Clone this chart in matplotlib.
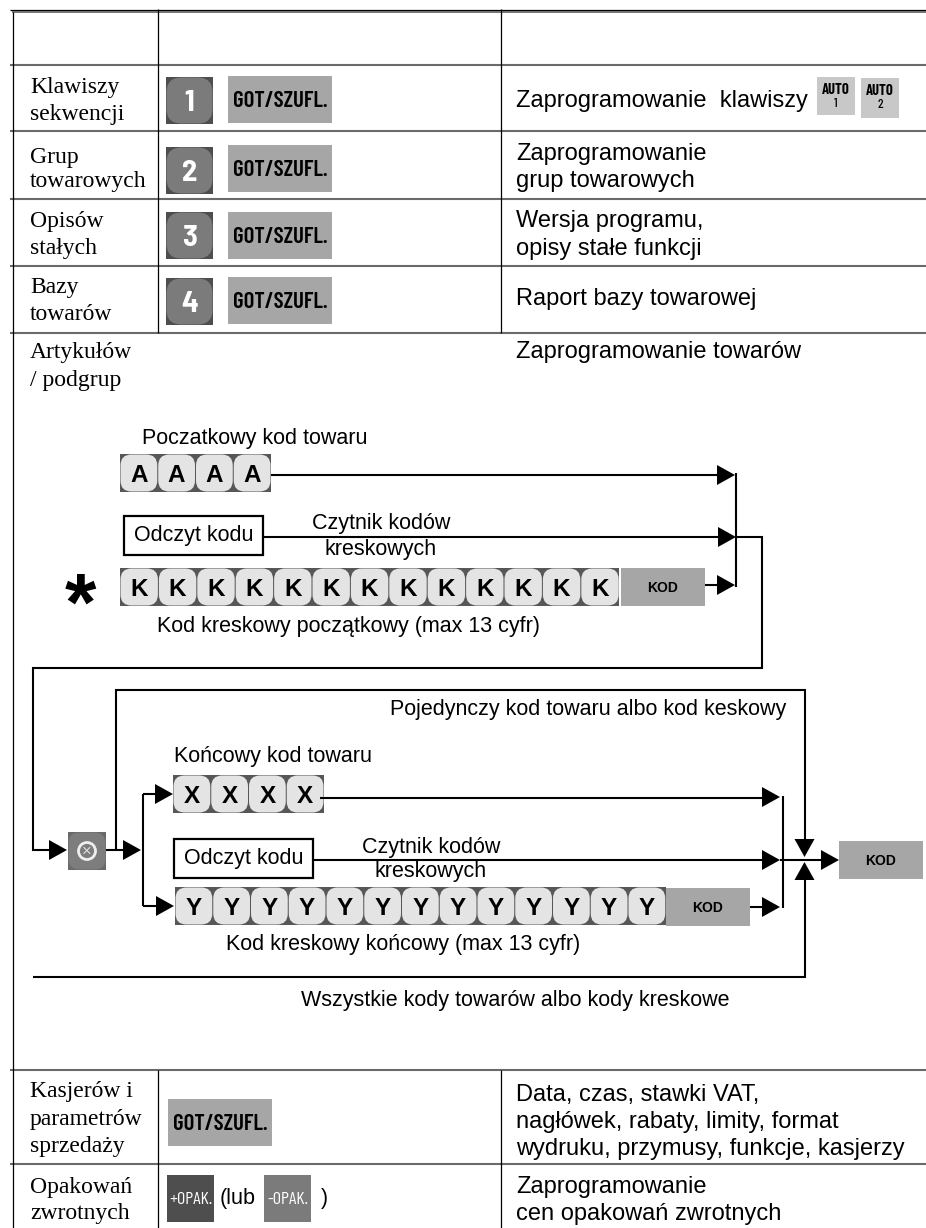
import matplotlib
matplotlib.use("Agg")
import matplotlib.pyplot as plt
from matplotlib.patches import Rectangle, FancyBboxPatch, Polygon, Circle

SANS = "Liberation Sans"
SERIF = "Liberation Serif"
NARROW = ["Barlow Condensed", "Archivo Narrow", "Liberation Sans"]
SEMI = ["Barlow Semi Condensed", "Archivo Narrow", "Liberation Sans"]

# table texts
row_names = [["Klawiszy", "sekwencji"], ["Grup", "towarowych"], ["Opisów", "stałych"],
             ["Bazy", "towarów"], ["Artykułów", "/ podgrup"],
             ["Kasjerów i", "parametrów", "sprzedaży"], ["Opakowań", "zwrotnych"]]
row_name_y = [[93, 120], [163, 187], [227, 254], [293, 320], [358, 386],
              [1097, 1125, 1152], [1193, 1219]]
row_desc = [["Zaprogramowanie  klawiszy"], ["Zaprogramowanie", "grup towarowych"],
            ["Wersja programu,", "opisy stałe funkcji"], ["Raport bazy towarowej"],
            ["Zaprogramowanie towarów"],
            ["Data, czas, stawki VAT,", "nagłówek, rabaty, limity, format",
             "wydruku, przymusy, funkcje, kasjerzy"],
            ["Zaprogramowanie", "cen opakowań zwrotnych"]]
row_desc_y = [[107], [160, 187], [227, 255], [305], [358], [1101, 1128, 1155], [1193, 1220]]

rule_y = [65, 131, 199, 266, 333, 1070, 1164]
digits = ["1", "2", "3", "4"]
digit_y = [77, 147, 212, 278]
got_y = [76, 145, 212, 277]

# diagram labels
diagram_text = [("Poczatkowy kod towaru", 142, 444), ("Kod kreskowy początkowy (max 13 cyfr)", 157, 632),
                ("Pojedynczy kod towaru albo kod keskowy", 390, 715), ("Końcowy kod towaru", 174, 762),
                ("Kod kreskowy końcowy (max 13 cyfr)", 226, 950),
                ("Wszystkie kody towarów albo kody kreskowe", 301, 1006)]

fig = plt.figure(figsize=(9.26, 12.28), dpi=100)
ax = fig.add_axes([0, 0, 1, 1])
ax.set_xlim(0, 926)
ax.set_ylim(1228, 0)
ax.axis("off")


def line(xs, ys, lw=1.5, color="black"):
    ax.plot(xs, ys, color=color, lw=lw, solid_capstyle="butt", solid_joinstyle="miter")


def label(x, y, s, size=15.5, ha="left", family=SANS, weight="normal", color="black"):
    ax.text(x, y, s, fontsize=size, ha=ha, va="baseline", family=family, weight=weight, color=color)


def box(x0, y0, x1, y1, color):
    ax.add_patch(Rectangle((x0, y0), x1 - x0, y1 - y0, facecolor=color, edgecolor="none"))


def key(x0, y0, w, h, s, back="#575757", face="#e4e4e4", size=17.5, color="black", family=SANS, drop=9, r=11,
        weight="bold"):
    box(x0, y0, x0 + w, y0 + h, back)
    ax.add_patch(FancyBboxPatch((x0 + 8.5, y0 + 8.5), w - 17, h - 17, boxstyle=f"round,pad=8,rounding_size={r}",
                                facecolor=face, edgecolor="none"))
    label(x0 + w / 2, y0 + h / 2 + drop, s, size=size, ha="center", weight=weight, family=family, color=color)


def key_row(x0, y0, w, letters):
    for i, s in enumerate(letters):
        key(x0 + i * w, y0, w, 38, s)


def arrow(x, y, d="right", length=18, half=10):
    if d == "right":
        pts = [(x, y), (x - length, y - half), (x - length, y + half)]
    elif d == "down":
        pts = [(x, y), (x - half, y - length), (x + half, y - length)]
    else:
        pts = [(x, y), (x - half, y + length), (x + half, y + length)]
    ax.add_patch(Polygon(pts, facecolor="black", edgecolor="none", zorder=3))


def kod_box(x0, y0):
    box(x0, y0, x0 + 84, y0 + 38, "#a6a6a6")
    label(x0 + 42, y0 + 24, "KOD", size=10, ha="center", weight="bold")


def got_box(x0, y0):
    box(x0, y0, x0 + 104, y0 + 47, "#a6a6a6")
    label(x0 + 52, y0 + 31, "GOT/SZUFL.", size=16.5, ha="center", weight=600, family=NARROW)


def odczyt(x0, y0, y_line, x_end):
    ax.add_patch(Rectangle((x0, y0), 139, 39, facecolor="white", edgecolor="black", lw=1.6))
    label(x0 + 70, y0 + 25, "Odczyt kodu", ha="center")
    line([x0 + 139, x_end], [y_line, y_line])


# table frame
line([10, 926], [9.5, 9.5], lw=0.9)
line([12, 926], [12, 12], lw=1.1, color="#505050")
for y in rule_y:
    line([10, 926], [y, y], lw=1.5, color="#6a6a6a")
line([12.5, 12.5], [12, 1228], lw=0.9)
for x in [158, 501]:
    line([x, x], [9, 333], lw=0.9)
    line([x, x], [1070, 1228], lw=0.9)

for names, ys in zip(row_names, row_name_y):
    for s, y in zip(names, ys):
        label(30, y, s, size=17, family=SERIF)
for descs, ys in zip(row_desc, row_desc_y):
    for s, y in zip(descs, ys):
        label(516, y, s, size=17)

# number keys
for d, y0, y1 in zip(digits, digit_y, got_y):
    key(166, y0, 47, 47, d, back="#4e4e4e", face="#7b7b7b", size=22, color="white", family=SEMI, drop=10.5, r=15,
        weight=700)
    got_box(228, y1)

for i, (x0, y0, y1) in enumerate([(817, 77, 115), (861, 78, 118)]):
    box(x0, y0, x0 + 38, y1, "#c8c8c8")
    label(x0 + 19, y0 + 17, "AUTO", size=10.5, ha="center", weight="bold", family=NARROW)
    label(x0 + 19, y0 + 30, str(i + 1), size=9.5, ha="center", family=NARROW, weight=500)

# upper part of diagram
for s, x, y in diagram_text:
    label(x, y, s)

key_row(120, 454, 37.75, "AAAA")
line([271, 725], [475, 475])
arrow(735, 475)
odczyt(123.5, 516, 537, 725)
label(381, 529, "Czytnik kodów", ha="center")
label(381, 555, "kreskowych", ha="center")
arrow(736, 537)
key_row(120, 568, 38.4, "K" * 13)
kod_box(621, 568)
line([705, 725], [585, 585])
arrow(735, 585)
line([736, 736], [473, 587])
line([736, 762, 762, 33, 33, 55], [537, 537, 668, 668, 850, 850])
label(80, 630, "*", size=58, ha="center", weight="bold")

# lower part of diagram
arrow(67, 850)
key(68, 832, 38, 38, "", back="#6a6a6a", face="#7d7d7d")
ax.add_patch(Circle((87, 851), 8.5, facecolor="#7d7d7d", edgecolor="#eeeeee", lw=2, zorder=3))
ax.text(87, 855.5, "×", fontsize=12, ha="center", va="baseline", color="#dddddd", family=SANS, zorder=4)
line([106, 130], [850, 850])
arrow(141, 850)
line([115.5, 115.5, 804.5, 804.5], [850, 690, 690, 845])
line([143, 143], [794, 906])
line([143, 160], [794, 794])
line([143, 160], [906, 906])
arrow(173, 794)
arrow(174, 906)
key_row(173, 775, 37.75, "XXXX")
line([320, 770], [798, 798])
arrow(780, 797)
odczyt(174, 839, 860, 770)
label(431, 853, "Czytnik kodów", ha="center")
label(431, 877, "kreskowych", ha="center")
arrow(780, 860)
key_row(175, 887, 37.75, "Y" * 13)
kod_box(666, 888)
line([750, 770], [907, 907])
arrow(780, 907)
line([782.5, 782.5], [796, 908])
line([780, 825], [860, 860])
arrow(839, 860)
arrow(804.5, 857, "down")
arrow(804.5, 862, "up")
line([33, 804.5, 804.5], [977, 977, 870])
kod_box(839, 841)

# bottom rows
got_box(168, 1099)
box(167, 1175, 214, 1222, "#4e4e4e")
box(264, 1175, 311, 1222, "#7b7b7b")
label(190.5, 1204, "+OPAK.", size=13, ha="center", family=NARROW, color="white")
label(287.5, 1204, "-OPAK.", size=13, ha="center", family=NARROW, color="white")
label(220, 1204, "(lub", size=15.5)
label(321, 1204, ")", size=15.5)

fig.savefig("out.png", dpi=100)
